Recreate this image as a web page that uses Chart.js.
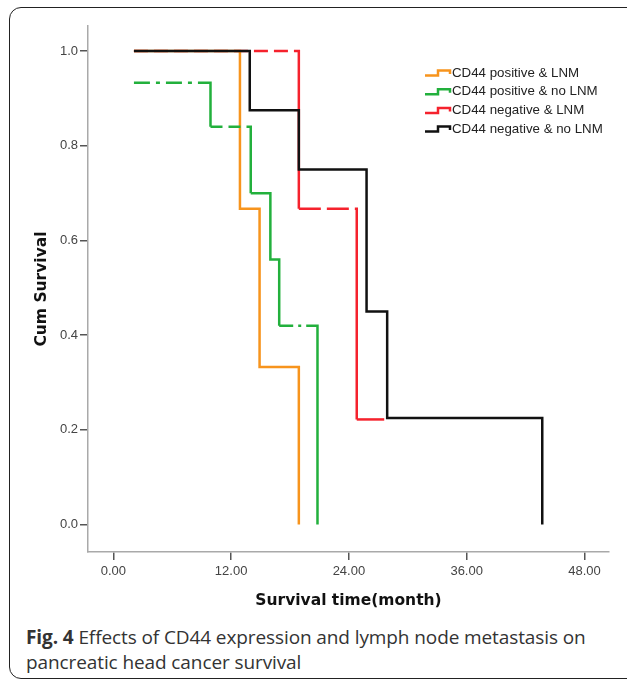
<!DOCTYPE html>
<html>
<head>
<meta charset="utf-8">
<script src="https://cdn.jsdelivr.net/npm/chart.js@4.4.1/dist/chart.umd.min.js"></script>
<style>
  html, body { margin: 0; padding: 0; background: #fff; overflow: hidden; }
  body { width: 627px; height: 685px; position: relative; }
  #frame {
    position: absolute; left: 9px; top: 7px; width: 700px; height: 670px;
    border: 1.5px solid #222; border-radius: 12px;
  }
  #wrap { position: absolute; left: 0; top: 0; width: 627px; height: 620px; }
  #caption {
    position: absolute; left: 26px; top: 625px;
    font-family: "Open Sans", sans-serif; font-size: 19px; line-height: 25px;
    color: #333; letter-spacing: -0.1px; white-space: nowrap;
  }
  #caption b { font-weight: 700; }
</style>
</head>
<body>
<div id="frame"></div>
<div id="wrap"><canvas id="kmChart" width="627" height="620"></canvas></div>
<div id="caption"><b>Fig. 4</b> Effects of CD44 expression and lymph node metastasis on<br>pancreatic head cancer survival</div>
<script>
// series: month of each step and the survival value after it
const groupLabels = ['CD44 positive & LNM', 'CD44 positive & no LNM', 'CD44 negative & LNM', 'CD44 negative & no LNM'];

const posLnmTime = [2.1, 12.9, 14.9, 18.9];
const posLnmSurv = [1.0, 0.667, 0.333, 0.0];

const posNoLnmTime = [2.1, 9.9, 14.0, 16.0, 16.9, 20.8];
const posNoLnmSurv = [0.933, 0.84, 0.70, 0.56, 0.42, 0.0];

const negLnmTime = [2.1, 18.9, 24.8, 27.6];
const negLnmSurv = [1.0, 0.667, 0.222, 0.222];

const negNoLnmTime = [2.1, 13.9, 18.9, 25.8, 27.9, 43.7];
const negNoLnmSurv = [1.0, 0.875, 0.75, 0.45, 0.225, 0.0];

const xTicks = [0, 12, 24, 36, 48];
const yTicks = [0, 0.2, 0.4, 0.6, 0.8, 1.0];

const colors = ['#f7941d', '#22b03c', '#f5222d', '#111111'];

// dash patterns per dataset / segment (only the horizontal part gets dashed)
const segDash = [
    {},
    { 0: [16, 6, 4, 6], 1: [12, 6], 4: [14, 5, 3, 5] },
    { 0: [14, 6], 1: [22, 6] },
    {}
];

const TICK_FONT = { family: '"Liberation Sans", Arial, sans-serif', size: 13 };
const TITLE_FONT = { family: '"DejaVu Sans", Verdana, sans-serif', size: 15.5, weight: 'bold' };

function toPoints(times, surv) {
    return times.map((t, i) => ({ x: t, y: surv[i] }));
}

// repeat the pattern along the horizontal run, then stay solid for the drop
function dashForStep(pattern, ctx) {
    const h = Math.abs(ctx.p1.x - ctx.p0.x);
    const v = Math.abs(ctx.p1.y - ctx.p0.y);
    const step = pattern.reduce((a, b) => a + b, 0);
    const arr = [];
    let len = 0;
    while (len + step < h) {
        arr.push(...pattern);
        len += step;
    }
    arr.push(h - len + v + 20, 0);
    return arr;
}

// legend with little step symbols, drawn inside the plot (SPSS style)
const stepLegend = {
    id: 'stepLegend',
    afterDraw(chart) {
        const ctx = chart.ctx;
        const area = chart.chartArea;
        const x0 = area.right - 184;
        const y0 = 73;
        ctx.save();
        chart.data.datasets.forEach((ds, i) => {
            const y = y0 + i * 18.7;
            ctx.strokeStyle = ds.borderColor;
            ctx.lineWidth = 2.5;
            ctx.beginPath();
            ctx.moveTo(x0, y + 2.5);
            ctx.lineTo(x0 + 13, y + 2.5);
            ctx.lineTo(x0 + 13, y - 2.5);
            ctx.lineTo(x0 + 25, y - 2.5);
            ctx.lineTo(x0 + 25, y + 1);
            ctx.stroke();
            ctx.fillStyle = '#222';
            ctx.font = '13.3px "Liberation Sans", Arial, sans-serif';
            ctx.textBaseline = 'middle';
            ctx.textAlign = 'left';
            ctx.fillText(ds.label, x0 + 27, y);
        });
        ctx.restore();
    }
};

const series = [
    toPoints(posLnmTime, posLnmSurv),
    toPoints(posNoLnmTime, posNoLnmSurv),
    toPoints(negLnmTime, negLnmSurv),
    toPoints(negNoLnmTime, negNoLnmSurv)
];
const drawOrder = [3, 2, 4, 1]; // black on top

const ctx = document.getElementById('kmChart');
new Chart(ctx, {
    type: 'line',
    data: {
        datasets: series.map((pts, i) => ({
            label: groupLabels[i],
            data: pts,
            borderColor: colors[i],
            backgroundColor: colors[i],
            borderWidth: 2.5,
            stepped: 'before',
            pointRadius: 0,
            fill: false,
            order: drawOrder[i],
            segment: {
                borderDash: c => {
                    const p = segDash[i][c.p0DataIndex];
                    return p ? dashForStep(p, c) : [];
                }
            }
        }))
    },
    options: {
        responsive: false,
        animation: false,
        layout: { padding: { top: 26, right: 18, left: 0, bottom: 0 } },
        plugins: {
            legend: { display: false },
            tooltip: { enabled: false }
        },
        scales: {
            x: {
                type: 'linear',
                min: -2.58,
                max: 50.5,
                afterBuildTicks: scale => { scale.ticks = xTicks.map(v => ({ value: v })); },
                afterFit: scale => { scale.height = 68; },
                grid: { drawOnChartArea: false, drawTicks: true, tickLength: 8, tickColor: '#555', lineWidth: 1.5 },
                border: { color: '#a9a9a9', width: 1.5 },
                ticks: {
                    padding: 4,
                    color: '#444',
                    font: TICK_FONT,
                    callback: v => v.toFixed(2)
                },
                title: {
                    display: true,
                    text: 'Survival time(month)',
                    color: '#111',
                    font: TITLE_FONT,
                    padding: { top: 0, bottom: 9.8 }
                }
            },
            y: {
                type: 'linear',
                min: -0.058,
                max: 1.053,
                afterBuildTicks: scale => { scale.ticks = yTicks.map(v => ({ value: v })); },
                afterFit: scale => { scale.width = 88; },
                grid: { drawOnChartArea: false, drawTicks: true, tickLength: 8, tickColor: '#555', lineWidth: 1.5 },
                border: { color: '#a9a9a9', width: 1.5 },
                ticks: {
                    padding: 2,
                    color: '#444',
                    font: TICK_FONT,
                    callback: v => v.toFixed(1)
                },
                title: {
                    display: true,
                    text: 'Cum Survival',
                    color: '#111',
                    font: TITLE_FONT,
                    padding: { top: 32.7, bottom: 0 }
                }
            }
        }
    },
    plugins: [stepLegend]
});
</script>
</body>
</html>
